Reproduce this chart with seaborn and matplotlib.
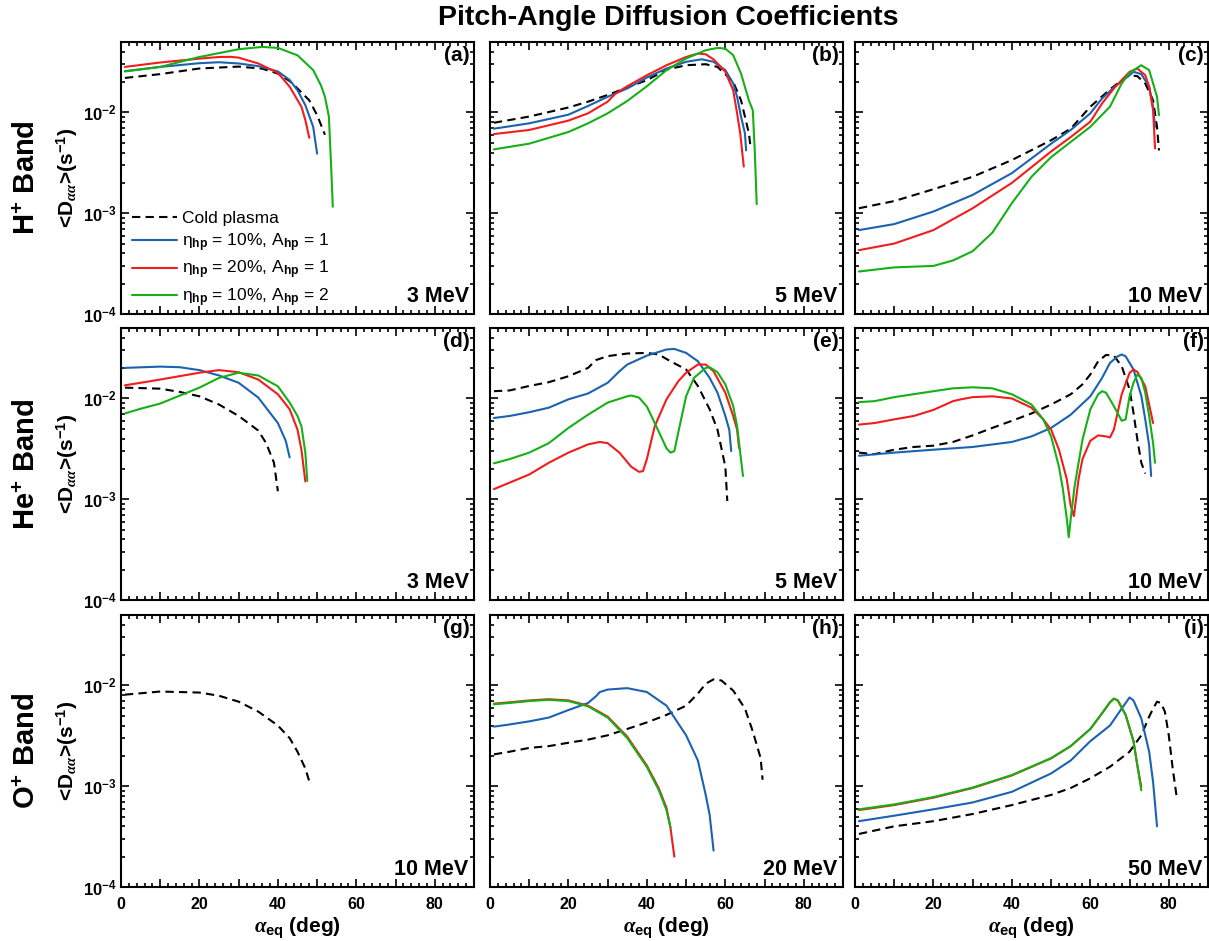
import matplotlib
matplotlib.use("Agg")
import matplotlib.pyplot as plt
from matplotlib.lines import Line2D
from matplotlib.ticker import FixedLocator, FixedFormatter, NullFormatter
import seaborn as sns

# ---- data: pitch angle (deg) and <D_aa> (1/s) ----
# (a) H+ band, 3 MeV
a_cold_x = [1, 10, 20, 30, 36, 40, 43, 45, 48, 50, 52]
a_cold_y = [0.0220, 0.0240, 0.0273, 0.0285, 0.0272, 0.0243, 0.0205, 0.0173, 0.0132, 0.0094, 0.0060]
a_blue_x = [1, 10, 20, 25, 30, 35, 40, 43, 45, 47, 49, 50]
a_blue_y = [0.0257, 0.0283, 0.0308, 0.0315, 0.0306, 0.0288, 0.0255, 0.0210, 0.0166, 0.0118, 0.0072, 0.0039]
a_red_x = [1, 10, 20, 25, 28, 30, 35, 40, 43, 46, 47, 48]
a_red_y = [0.0283, 0.0313, 0.0342, 0.0355, 0.0356, 0.0350, 0.0306, 0.0247, 0.0180, 0.0114, 0.0084, 0.0056]
a_green_x = [1, 10, 20, 30, 36, 40, 45, 49, 51, 52, 53, 53.5, 54]
a_green_y = [0.0255, 0.0283, 0.0355, 0.0424, 0.0447, 0.0437, 0.0369, 0.0263, 0.0185, 0.0143, 0.0091, 0.0034, 0.00116]

# (b) H+ band, 5 MeV
b_cold_x = [1, 10, 20, 25, 30, 35, 40, 45, 50, 55, 58, 62, 64, 65, 66, 66.5]
b_cold_y = [0.0079, 0.0091, 0.0112, 0.0128, 0.0149, 0.0177, 0.0209, 0.0266, 0.0294, 0.0301, 0.0283, 0.0201, 0.0132, 0.0091, 0.0062, 0.0043]
b_blue_x = [1, 10, 20, 25, 30, 35, 40, 45, 50, 54, 57, 60, 62, 63, 64, 65, 65.3]
b_blue_y = [0.0069, 0.0078, 0.0095, 0.0116, 0.0143, 0.0173, 0.0222, 0.0273, 0.0318, 0.0337, 0.0318, 0.0263, 0.0194, 0.0143, 0.0091, 0.0062, 0.0042]
b_red_x = [1, 10, 20, 25, 30, 32, 35, 40, 45, 50, 53, 55, 57, 60, 62, 63, 63.8, 64.7]
b_red_y = [0.0061, 0.0067, 0.0083, 0.0098, 0.0128, 0.0154, 0.0182, 0.0234, 0.0294, 0.0355, 0.0384, 0.0378, 0.0336, 0.0253, 0.0166, 0.0098, 0.0062, 0.0029]
b_green_x = [1, 10, 20, 25, 30, 35, 40, 45, 50, 55, 58, 60, 62, 64, 66, 67, 67.5, 68]
b_green_y = [0.0043, 0.0049, 0.0064, 0.0078, 0.0098, 0.0130, 0.0182, 0.0263, 0.0343, 0.0414, 0.0437, 0.0430, 0.0370, 0.0243, 0.0132, 0.0105, 0.0042, 0.00123]

# (c) H+ band, 10 MeV
c_cold_x = [1, 10, 20, 30, 40, 50, 55, 60, 65, 68, 70, 72, 74, 76, 77, 77.5]
c_cold_y = [0.00112, 0.00132, 0.00173, 0.0023, 0.00337, 0.0053, 0.0069, 0.0114, 0.0169, 0.0209, 0.0234, 0.0229, 0.0194, 0.0132, 0.0072, 0.0042]
c_blue_x = [1, 10, 20, 30, 40, 50, 55, 60, 63, 66, 70, 71, 73, 75, 76, 76.5]
c_blue_y = [0.00068, 0.00078, 0.00104, 0.00152, 0.0025, 0.0049, 0.0067, 0.0098, 0.0138, 0.0177, 0.0234, 0.0253, 0.0240, 0.0180, 0.0114, 0.0072]
c_red_x = [1, 10, 20, 30, 40, 50, 55, 60, 63, 66, 70, 72, 74, 75, 76, 76.5]
c_red_y = [0.00043, 0.0005, 0.00068, 0.00112, 0.0020, 0.0041, 0.0057, 0.0081, 0.0123, 0.0173, 0.0253, 0.0273, 0.0234, 0.0180, 0.0105, 0.0044]
c_green_x = [1, 10, 20, 25, 30, 35, 40, 45, 50, 55, 60, 65, 68, 70, 73, 75, 77, 77.5]
c_green_y = [0.000264, 0.00029, 0.0003, 0.00034, 0.00042, 0.00064, 0.00126, 0.0023, 0.0036, 0.0051, 0.0072, 0.0114, 0.0194, 0.0247, 0.0294, 0.0263, 0.0143, 0.0094]

# (d) He+ band, 3 MeV
d_cold_x = [1, 10, 15, 20, 25, 30, 35, 37, 39, 40]
d_cold_y = [0.0128, 0.0125, 0.0116, 0.0105, 0.0087, 0.0067, 0.0048, 0.0036, 0.0023, 0.0012]
d_blue_x = [1, 10, 15, 20, 25, 30, 35, 40, 42, 43]
d_blue_y = [0.0201, 0.0207, 0.0204, 0.0191, 0.0169, 0.0143, 0.0102, 0.0057, 0.0038, 0.0026]
d_red_x = [1, 5, 10, 20, 25, 30, 35, 40, 43, 45, 46, 47]
d_red_y = [0.0135, 0.0143, 0.0154, 0.0180, 0.0191, 0.0182, 0.0154, 0.0110, 0.0078, 0.0049, 0.0031, 0.0015]
d_green_x = [1, 5, 10, 20, 25, 30, 35, 40, 43, 45, 46, 47, 47.5]
d_green_y = [0.0071, 0.0079, 0.0089, 0.0128, 0.0160, 0.0180, 0.0169, 0.0132, 0.0091, 0.0067, 0.0053, 0.0029, 0.00152]

# (e) He+ band, 5 MeV
e_cold_x = [1, 5, 10, 15, 20, 25, 27, 30, 35, 40, 43, 46, 50, 53, 56, 58, 60, 60.5]
e_cold_y = [0.0118, 0.0120, 0.0133, 0.0145, 0.0166, 0.0201, 0.0240, 0.0263, 0.0279, 0.0283, 0.0273, 0.0234, 0.0194, 0.0133, 0.0078, 0.0049, 0.0021, 0.00096]
e_blue_x = [1, 5, 10, 15, 20, 25, 30, 33, 35, 40, 45, 47, 50, 53, 56, 58, 60, 61, 61.5]
e_blue_y = [0.0064, 0.0067, 0.0073, 0.0081, 0.0098, 0.0112, 0.0143, 0.0186, 0.0217, 0.0266, 0.0306, 0.0310, 0.0283, 0.0234, 0.0160, 0.0114, 0.0067, 0.0049, 0.0030]
e_red_x = [1, 5, 10, 15, 20, 25, 28, 30, 33, 36, 38, 39, 40, 42, 45, 48, 50, 53, 55, 57, 60, 62, 63, 63.5]
e_red_y = [0.00126, 0.00146, 0.00176, 0.0023, 0.0029, 0.0035, 0.0037, 0.0036, 0.0029, 0.0021, 0.00187, 0.0019, 0.0025,
           0.0053, 0.0098, 0.0148, 0.0180, 0.0217, 0.0217, 0.0186, 0.0114, 0.0067, 0.0049, 0.0032]
e_green_x = [1, 5, 10, 15, 20, 25, 30, 35, 36, 38, 40, 42, 45, 46, 47, 48, 50, 52, 55, 56, 58, 60, 62, 63, 64.5]
e_green_y = [0.00227, 0.0025, 0.0029, 0.0036, 0.0051, 0.0069, 0.0091, 0.0105, 0.0107, 0.0102, 0.0083, 0.0057, 0.0032,
             0.0029, 0.0030, 0.0046, 0.0105, 0.0160, 0.0201, 0.0204, 0.0182, 0.0138, 0.0084, 0.0053, 0.0017]

# (f) He+ band, 10 MeV
f_cold_x = [1, 5, 10, 15, 20, 25, 30, 35, 40, 45, 50, 55, 58, 60, 62, 64, 66, 68, 70, 71, 72, 73, 74]
f_cold_y = [0.0029, 0.0028, 0.0031, 0.0033, 0.0034, 0.0037, 0.0043, 0.0051, 0.0060, 0.0071, 0.0087, 0.0110, 0.0138,
            0.0173, 0.0234, 0.0270, 0.0266, 0.0209, 0.0123, 0.0072, 0.0039, 0.0023, 0.0018]
f_blue_x = [1, 10, 20, 30, 40, 45, 50, 55, 60, 63, 65, 67, 68, 69, 71, 73, 74, 75, 75.5]
f_blue_y = [0.0027, 0.0029, 0.0031, 0.0033, 0.0037, 0.0042, 0.0051, 0.0069, 0.0105, 0.0160, 0.0225, 0.0262, 0.0273,
            0.0262, 0.0194, 0.0106, 0.0062, 0.0034, 0.0017]
f_red_x = [1, 5, 10, 15, 20, 25, 27, 30, 35, 40, 45, 48, 50, 52, 54, 55, 55.8, 57, 58, 60, 62, 64, 65, 66, 68, 70, 71,
           72, 74, 76]
f_red_y = [0.0055, 0.0057, 0.0062, 0.0067, 0.0077, 0.0094, 0.0098, 0.0103, 0.0105, 0.0100, 0.0081, 0.0062, 0.0049,
           0.0031, 0.00158, 0.00086, 0.00068, 0.00158, 0.0025, 0.0038, 0.0043, 0.0042, 0.0041, 0.0049, 0.0110,
           0.0179, 0.0194, 0.0183, 0.0132, 0.0057]
f_green_x = [1, 5, 10, 20, 25, 30, 35, 40, 45, 48, 50, 52, 53, 54, 54.5, 55, 56, 58, 60, 62, 63, 64, 66, 68, 69, 70,
             71, 72, 73, 74, 75, 76, 76.5]
f_green_y = [0.0092, 0.0094, 0.0103, 0.0118, 0.0126, 0.0129, 0.0126, 0.0110, 0.0087, 0.0062, 0.0042, 0.0021, 0.00126,
             0.00064, 0.00042, 0.00064, 0.00135, 0.0039, 0.0078, 0.0110, 0.0118, 0.0114, 0.0084, 0.0060, 0.0062,
             0.0105, 0.0143, 0.0173, 0.0160, 0.0114, 0.0067, 0.0036, 0.0023]

# (g) O+ band, 10 MeV
g_cold_x = [1, 10, 20, 25, 30, 35, 40, 43, 45, 47, 48]
g_cold_y = [0.0081, 0.0087, 0.0085, 0.0079, 0.0069, 0.0055, 0.0040, 0.0030, 0.0022, 0.0015, 0.00112]

# (h) O+ band, 20 MeV
h_cold_x = [1, 5, 10, 15, 20, 25, 30, 35, 40, 45, 50, 53, 55, 57, 59, 62, 65, 67, 69, 69.5]
h_cold_y = [0.00207, 0.0022, 0.0024, 0.0025, 0.0027, 0.0029, 0.0032, 0.0037, 0.0043, 0.0051, 0.0063, 0.0083, 0.0104,
            0.0115, 0.0112, 0.0089, 0.0059, 0.0035, 0.0019, 0.00116]
h_blue_x = [1, 5, 10, 15, 20, 25, 27, 28, 30, 35, 40, 45, 50, 53, 55, 56, 57]
h_blue_y = [0.0039, 0.0041, 0.0044, 0.0048, 0.0057, 0.0067, 0.0078, 0.0086, 0.0091, 0.0094, 0.0086, 0.0063, 0.0032,
            0.0018, 0.00082, 0.00052, 0.00023]
h_red_x = [1, 5, 10, 15, 20, 25, 30, 35, 40, 43, 45, 46, 47]
h_red_y = [0.0066, 0.0068, 0.0071, 0.0073, 0.0071, 0.0063, 0.0049, 0.0031, 0.0016, 0.00096, 0.00061, 0.00039, 0.0002]
h_green_x = [1, 5, 10, 15, 20, 25, 30, 35, 40, 43, 45, 46]
h_green_y = [0.0065, 0.0067, 0.0070, 0.0072, 0.0070, 0.0062, 0.0048, 0.0030, 0.00155, 0.00092, 0.00058, 0.00039]

# (i) O+ band, 50 MeV
i_cold_x = [1, 10, 20, 30, 40, 50, 55, 60, 65, 70, 73, 75, 76, 77, 78, 79, 80, 81, 82]
i_cold_y = [0.000336, 0.0004, 0.00045, 0.00053, 0.00065, 0.00082, 0.00096, 0.0012, 0.00156, 0.0022, 0.0032, 0.0049,
            0.0059, 0.0069, 0.0067, 0.0055, 0.0032, 0.0015, 0.00079]
i_blue_x = [1, 10, 20, 30, 40, 50, 55, 60, 65, 68, 70, 71, 73, 75, 76, 77]
i_blue_y = [0.00045, 0.00051, 0.00059, 0.00069, 0.00088, 0.00134, 0.0018, 0.0028, 0.0040, 0.0059, 0.0076, 0.0071,
            0.0047, 0.0022, 0.0011, 0.0004]
i_red_x = [1, 10, 20, 30, 40, 50, 55, 60, 63, 65, 66, 67, 69, 71, 72, 73]
i_red_y = [0.00058, 0.00065, 0.00077, 0.00096, 0.00128, 0.00189, 0.0025, 0.0037, 0.0053, 0.0068, 0.0074, 0.0071,
           0.0051, 0.0028, 0.0016, 0.00098]
i_green_x = [1, 10, 20, 30, 40, 50, 55, 60, 63, 65, 66, 67, 69, 71, 72, 73]
i_green_y = [0.00059, 0.00066, 0.00078, 0.00097, 0.00129, 0.0019, 0.0025, 0.0037, 0.0053, 0.0068, 0.0074, 0.0071,
             0.0051, 0.0028, 0.0016, 0.00091]

PANEL_LETTERS = ["a", "b", "c", "d", "e", "f", "g", "h", "i"]
ENERGIES = ["3 MeV", "5 MeV", "10 MeV", "3 MeV", "5 MeV", "10 MeV", "10 MeV", "20 MeV", "50 MeV"]
BANDS = ["H$^{+}$ Band", "He$^{+}$ Band", "O$^{+}$ Band"]
X_TICKS = [0, 10, 20, 30, 40, 50, 60, 70, 80, 90]
X_TICK_LABELS = ["0", "", "20", "", "40", "", "60", "", "80", ""]
LEGEND_LABELS = ["Cold plasma",
                 r"η$_{\mathsf{hp}}$ = 10%, A$_{\mathsf{hp}}$ = 1",
                 r"η$_{\mathsf{hp}}$ = 20%, A$_{\mathsf{hp}}$ = 1",
                 r"η$_{\mathsf{hp}}$ = 10%, A$_{\mathsf{hp}}$ = 2"]

CURVES = [
    [("cold", a_cold_x, a_cold_y), ("blue", a_blue_x, a_blue_y), ("red", a_red_x, a_red_y), ("green", a_green_x, a_green_y)],
    [("cold", b_cold_x, b_cold_y), ("blue", b_blue_x, b_blue_y), ("red", b_red_x, b_red_y), ("green", b_green_x, b_green_y)],
    [("cold", c_cold_x, c_cold_y), ("blue", c_blue_x, c_blue_y), ("red", c_red_x, c_red_y), ("green", c_green_x, c_green_y)],
    [("cold", d_cold_x, d_cold_y), ("blue", d_blue_x, d_blue_y), ("red", d_red_x, d_red_y), ("green", d_green_x, d_green_y)],
    [("cold", e_cold_x, e_cold_y), ("blue", e_blue_x, e_blue_y), ("red", e_red_x, e_red_y), ("green", e_green_x, e_green_y)],
    [("cold", f_cold_x, f_cold_y), ("blue", f_blue_x, f_blue_y), ("red", f_red_x, f_red_y), ("green", f_green_x, f_green_y)],
    [("cold", g_cold_x, g_cold_y)],
    [("cold", h_cold_x, h_cold_y), ("blue", h_blue_x, h_blue_y), ("red", h_red_x, h_red_y), ("green", h_green_x, h_green_y)],
    [("cold", i_cold_x, i_cold_y), ("blue", i_blue_x, i_blue_y), ("red", i_red_x, i_red_y), ("green", i_green_x, i_green_y)],
]

COLORS = {"cold": "black", "blue": "#1b62b0", "red": "#f21c1c", "green": "#16b016"}
DASH = (0, (4, 2.5))

# ---- style ----
sns.set_theme(style="ticks")
plt.rcParams["font.family"] = ["Liberation Sans", "DejaVu Sans"]
plt.rcParams["font.weight"] = "bold"
plt.rcParams["text.color"] = "black"
plt.rcParams["axes.labelcolor"] = "black"
plt.rcParams["axes.labelweight"] = "bold"
plt.rcParams["xtick.color"] = "black"
plt.rcParams["ytick.color"] = "black"
plt.rcParams["axes.edgecolor"] = "black"
plt.rcParams["mathtext.fontset"] = "custom"
plt.rcParams["mathtext.rm"] = "Liberation Sans:bold"
plt.rcParams["mathtext.bf"] = "Liberation Sans:bold"
plt.rcParams["mathtext.sf"] = "Liberation Sans"
plt.rcParams["mathtext.it"] = "Liberation Serif:italic"
plt.rcParams["axes.linewidth"] = 1.5
plt.rcParams["xtick.direction"] = "in"
plt.rcParams["ytick.direction"] = "in"

W, HF = 1209, 941
COL_L = [121, 490, 855]
ROW_T = [42, 328, 615]
AX_W, AX_H = 353, 272

fig = plt.figure(figsize=(W / 100, HF / 100), dpi=100)

for k, curves in enumerate(CURVES):
    r, c = divmod(k, 3)
    ax = fig.add_axes([COL_L[c] / W, 1 - (ROW_T[r] + AX_H) / HF, AX_W / W, AX_H / HF])
    for key, xs, ys in curves:
        sns.lineplot(x=xs, y=ys, ax=ax, color=COLORS[key], lw=1.5, estimator=None, sort=False,
                     linestyle=DASH if key == "cold" else "-")
    ax.set_yscale("log")
    ax.set_xlim(0, 90)
    ax.set_ylim(1e-4, 5e-2)

    ax.xaxis.set_major_locator(FixedLocator(X_TICKS))
    ax.xaxis.set_minor_locator(FixedLocator(list(range(0, 91, 2))))
    ax.yaxis.set_major_locator(FixedLocator([1e-4, 1e-3, 1e-2]))
    ax.yaxis.set_minor_locator(FixedLocator([m * 10.0 ** e for e in (-4, -3, -2) for m in range(2, 10)]))
    ax.yaxis.set_minor_formatter(NullFormatter())
    ax.xaxis.set_minor_formatter(NullFormatter())
    ax.tick_params(which="both", top=True, right=True, width=1.2, colors="black")
    ax.tick_params(which="major", length=6)
    ax.tick_params(which="minor", length=3)
    ax.tick_params(axis="x", labelsize=11.5, pad=7)
    ax.tick_params(axis="y", labelsize=12, pad=3)

    if c == 0:
        ax.yaxis.set_major_formatter(FixedFormatter([r"$\mathbf{10^{-4}}$", r"$\mathbf{10^{-3}}$", r"$\mathbf{10^{-2}}$"]))
    else:
        ax.yaxis.set_major_formatter(NullFormatter())
    if r == 2:
        ax.xaxis.set_major_formatter(FixedFormatter(X_TICK_LABELS))
        ax.set_xlabel(r"$\alpha_{\mathbf{eq}}$ (deg)", fontsize=15, fontweight="bold", labelpad=3)
    else:
        ax.xaxis.set_major_formatter(NullFormatter())

    ax.text(0.988, 0.985, "(%s)" % PANEL_LETTERS[k], transform=ax.transAxes, ha="right", va="top",
            fontsize=15, fontweight="bold")
    ax.text(0.985, 0.045, ENERGIES[k], transform=ax.transAxes, ha="right", va="baseline",
            fontsize=15.5, fontweight="bold")

    if k == 0:
        handles = [Line2D([], [], color=COLORS[key], lw=1.5, linestyle=DASH if key == "cold" else "-")
                   for key in ("cold", "blue", "red", "green")]
        leg = ax.legend(handles, LEGEND_LABELS, loc="lower left", bbox_to_anchor=(0.031, 0.02), frameon=False,
                        borderpad=0, borderaxespad=0, handlelength=2.6, handletextpad=0.3, labelspacing=0.3,
                        prop={"size": 12.5, "weight": "normal"})
        for t in leg.get_texts():
            t.set_color("black")

# figure-level labels
for r in range(3):
    yc = 1 - (ROW_T[r] + AX_H / 2) / HF
    fig.text(26 / W, yc, BANDS[r], rotation=90, ha="center", va="center", fontsize=21, fontweight="bold")
    fig.text(67 / W, yc, r"<$\mathbf{D}_{\alpha\alpha}$>(s$^{-1}$)", rotation=90, ha="center", va="center",
             fontsize=15, fontweight="bold")

fig.text(668 / W, 1 - 18 / HF, "Pitch-Angle Diffusion Coefficients", ha="center", va="center",
         fontsize=20.5, fontweight="bold")

fig.savefig("out.png", dpi=100)
